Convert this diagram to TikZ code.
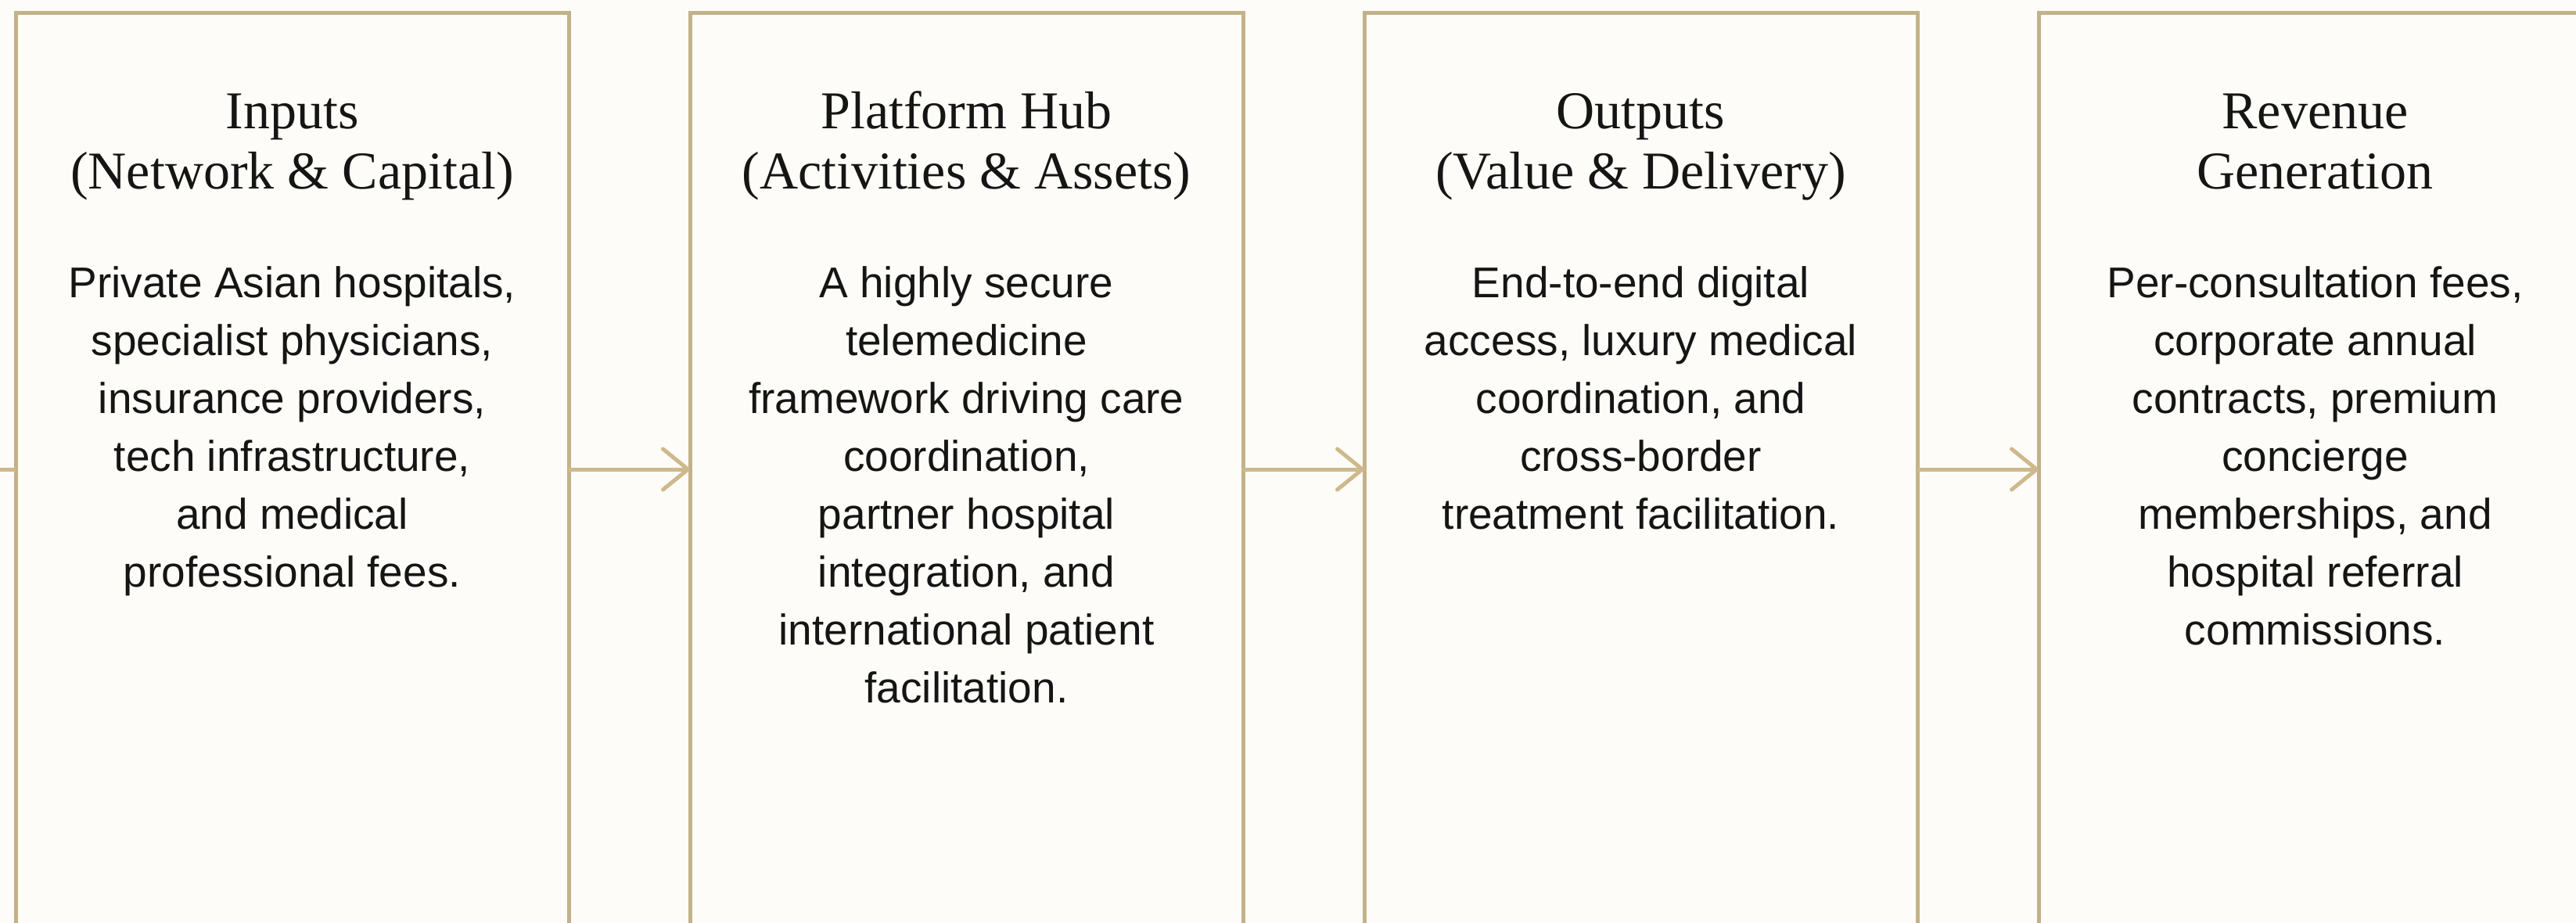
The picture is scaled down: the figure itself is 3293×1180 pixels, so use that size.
\documentclass[tikz,border=0pt]{standalone}
\usepackage{fontspec}
\setmainfont{Liberation Serif}
\setsansfont{Liberation Sans}
\usepackage{tikz}
\usetikzlibrary{arrows.meta}
\definecolor{pagebg}{HTML}{FDFCF8}
\definecolor{goldline}{HTML}{C3B289}
\definecolor{goldarrow}{HTML}{CDB98B}
\definecolor{inktext}{HTML}{151515}

\begin{document}
\begin{tikzpicture}[x=0.3pt, y=-0.3pt,
        stagebox/.style={draw=goldline, line width=1.5pt, rectangle, outer sep=0pt,
                         minimum width=212.1pt, minimum height=350.4pt},
        headtext/.style={anchor=base, align=center, text=inktext, inner sep=0pt,
                         font=\fontsize{20.4pt}{23.1pt}\selectfont},
        bodytext/.style={anchor=base, align=center, text=inktext, inner sep=0pt,
                         font=\sffamily\fontsize{16.5pt}{22.2pt}\selectfont},
        flowarrow/.style={draw=goldarrow, line width=1.5pt,
                          -{Straight Barb[length=9.6pt, width=15.6pt, round]}}]
                    \path[use as bounding box] (0,0) rectangle (3293,1180);
                    \clip (0,0) rectangle (3293,1180);
                    \fill[pagebg] (0,0) rectangle (3293,1180);

                    % the four stages
                    \node[stagebox] (inputs) at (373.5,600) {};
                    \node[stagebox] (hub) at (1235.5,600) {};
                    \node[stagebox] (outputs) at (2097.5,600) {};
                    \node[stagebox] (revenue) at (2959.5,600) {};

                    % base = last line of each text
                    \node[headtext] (inputsHead) at (373.5,242) {Inputs\\(Network \& Capital)};
                    \node[headtext] (hubHead) at (1235.5,242) {Platform Hub\\(Activities \& Assets)};
                    \node[headtext] (outputsHead) at (2097.5,242) {Outputs\\(Value \& Delivery)};
                    \node[headtext] (revenueHead) at (2959.5,242) {Revenue\\Generation};

                    \node[bodytext] (inputsBody) at (373.5,750) {Private Asian hospitals,\\specialist physicians,\\insurance providers,\\tech infrastructure,\\and medical\\professional fees.};
                    \node[bodytext] (hubBody) at (1235.5,898) {A highly secure\\telemedicine\\framework driving care\\coordination,\\partner hospital\\integration, and\\international patient\\facilitation.};
                    \node[bodytext] (outputsBody) at (2097.5,676) {End-to-end digital\\access, luxury medical\\coordination, and\\cross-border\\treatment facilitation.};
                    \node[bodytext] (revenueBody) at (2959.5,824) {Per-consultation fees,\\corporate annual\\contracts, premium\\concierge\\memberships, and\\hospital referral\\commissions.};

                    % connectors
                    \coordinate (lead) at (0,600);
                    \draw[draw=goldarrow, line width=1.5pt] (lead) -- (inputs.west);
                    \draw[flowarrow] (inputs.east) -- (hub.west);
                    \draw[flowarrow] (hub.east) -- (outputs.west);
                    \draw[flowarrow] (outputs.east) -- (revenue.west);
                \end{tikzpicture}
\end{document}
